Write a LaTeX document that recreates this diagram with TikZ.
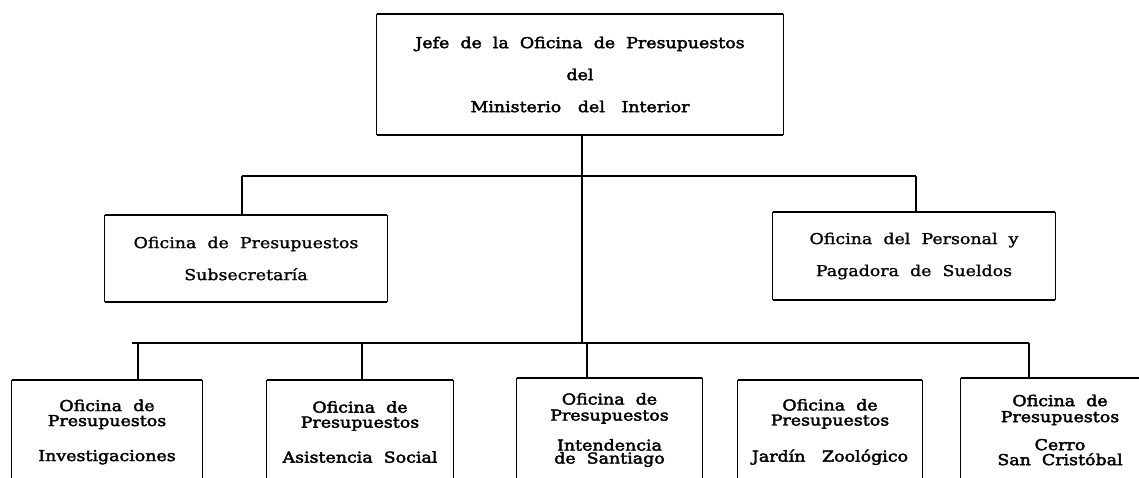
\documentclass[tikz,border=0pt]{standalone}
\usepackage{fontspec}
\setmainfont{DejaVu Serif}
\newfontfamily\boldslab{DejaVu Serif}[FakeBold=2.6,FakeStretch=1.16]
\newfontfamily\lightslab{DejaVu Serif}[FakeBold=1.3,FakeStretch=1.16]
\def\orgframe#1{%
  \draw[hline] (#1.north west) -- (#1.north east);
  \draw[hline] (#1.south west) -- (#1.south east);
  \draw[vline] (#1.north west) -- (#1.south west);
  \draw[vline] (#1.north east) -- (#1.south east);}
\begin{document}
\begin{tikzpicture}[x=1pt,y=-1pt,
  box/.style={draw=none,rectangle,inner sep=0pt,align=center,text=black},
  hline/.style={line width=1.7pt},
  vline/.style={line width=1.3pt},
  conn/.style={line width=1.6pt},
  topfont/.style={font=\boldslab\fontsize{15}{17}\selectfont},
  midfont/.style={font=\lightslab\fontsize{15}{17}\selectfont},
  lowfont/.style={font=\boldslab\fontsize{15}{15}\selectfont}]
\useasboundingbox (0,0) rectangle (1139,477);
\fill[white] (0,0) rectangle (1139,477);
\clip (0,0) rectangle (1139,477);
% top
\node[box,topfont,minimum width=406pt,minimum height=121pt] (top) at (580,74.5)
  {Jefe\ \ de\ \ la\ \ Oficina\ \ de\ \ Presupuestos\\[15pt]del\\[15pt]Ministerio\ \ \ del\ \ \ Interior};
% level 2
\node[box,midfont,minimum width=282pt,minimum height=87pt] (sub) at (246,258.5)
  {Oficina\ \ de\ \ Presupuestos\\[15pt]Subsecretaría};
\node[box,midfont,minimum width=282pt,minimum height=88pt] (pers) at (914,256)
  {Oficina\ \ del\ \ Personal\ \ y\\[15pt]Pagadora\ \ de\ \ Sueldos};
% level 3
\node[box,lowfont,minimum width=190pt,minimum height=104pt] (inv) at (107,432)
  {Oficina\ \ de\\Presupuestos\\[20pt]Investigaciones};
\node[box,lowfont,minimum width=186pt,minimum height=104pt] (asis) at (360,432)
  {Oficina\ \ de\\Presupuestos\\[20pt]Asistencia\ \ Social};
\node[box,lowfont,minimum width=185pt,minimum height=104pt] (int) at (609.5,430)
  {Oficina\ \ de\\[1pt]Presupuestos\\[15pt]Intendencia\\[-2pt]de\ \ Santiago};
\node[box,lowfont,minimum width=184pt,minimum height=104pt] (zoo) at (830,432)
  {Oficina\ \ de\\Presupuestos\\[20pt]Jardín\ \ \ Zoológico};
\node[box,lowfont,minimum width=198pt,minimum height=104pt] (cerro) at (1060,430)
  {Oficina\ \ de\\[1pt]Presupuestos\\[13pt]Cerro\\San\ \ Cristóbal};
\orgframe{top}\orgframe{sub}\orgframe{pers}
\orgframe{inv}\orgframe{asis}\orgframe{int}\orgframe{zoo}\orgframe{cerro}
% connectors
\coordinate (j1) at (582,176);
\coordinate (l1) at (242,176);
\coordinate (r1) at (916,176);
\coordinate (j2) at (582,343);
\coordinate (l2) at (132,343);
\coordinate (r2) at (1029,343);
\coordinate (s1) at (138,343);
\coordinate (s2) at (362,343);
\coordinate (s3) at (587,343);
\draw[conn] (top.south -| j1) -- (j1);
\draw[conn] (l1) -- (r1);
\draw[conn] (l1) -- (sub.north -| l1);
\draw[conn] (r1) -- (pers.north -| r1);
\draw[conn] (j1) -- (j2);
\draw[conn] (l2) -- (r2);
\draw[conn] (s1) -- (inv.north -| s1);
\draw[conn] (s2) -- (asis.north -| s2);
\draw[conn] (s3) -- (int.north -| s3);
\draw[conn] (r2) -- (cerro.north -| r2);
\end{tikzpicture}
\end{document}
